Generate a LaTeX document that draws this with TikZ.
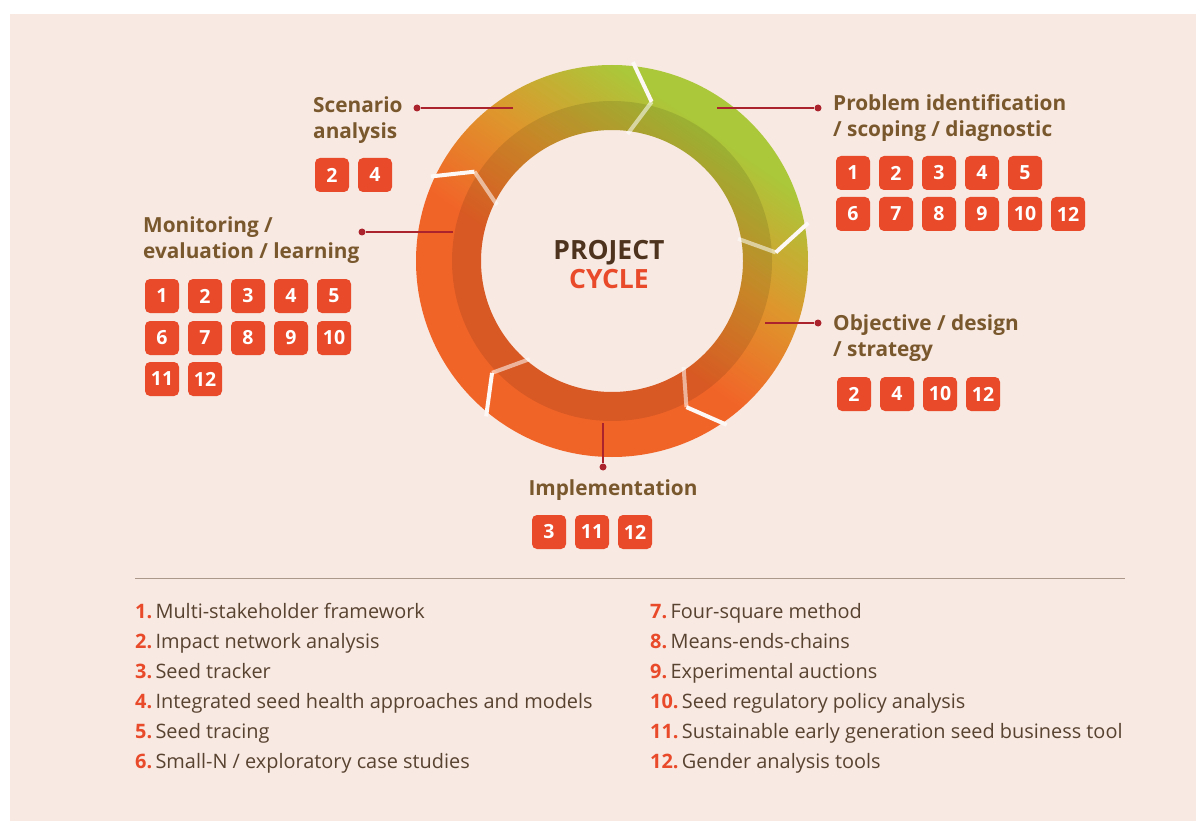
\documentclass[tikz,border=0pt]{standalone}
\usepackage{fontspec}
\setmainfont{Open Sans}
\usetikzlibrary{calc, positioning}

\definecolor{bgpeach}{RGB}{248,233,226}
\definecolor{boxred}{RGB}{232,74,42}
\definecolor{labelbrown}{RGB}{122,88,46}
\definecolor{legendbrown}{RGB}{88,66,48}
\definecolor{titlebrown}{RGB}{78,52,30}
\definecolor{leadred}{RGB}{170,35,45}
\definecolor{rulegray}{RGB}{172,152,138}
\definecolor{ringgreen}{RGB}{170,200,58}
\definecolor{ringmid}{RGB}{222,150,44}
\definecolor{ringorange}{RGB}{241,100,40}
\pgfdeclareverticalshading{ringshade}{100bp}{color(0bp)=(ringorange); color(44bp)=(ringorange);
  color(57bp)=(ringmid); color(71bp)=(ringgreen); color(100bp)=(ringgreen)}

\begin{document}
\begin{tikzpicture}[x=1pt, y=-1pt]
  \tikzstyle{numbox}=[fill=boxred, rounded corners=5pt, minimum size=34pt, inner sep=0pt,
    text=white, font=\fontsize{19.5}{19.5}\selectfont\bfseries]
  \tikzstyle{phase}=[anchor=north west, inner sep=0pt, align=left, text=labelbrown,
    font=\fontsize{20.8}{26}\selectfont\bfseries]
  \tikzstyle{leader}=[draw=leadred, line width=1.5pt]
  \tikzstyle{leaddot}=[circle, fill=leadred, inner sep=0pt, minimum size=7pt]
  \tikzstyle{gapline}=[draw=white!65!bgpeach, line width=4pt]
  \tikzstyle{legenditem}=[anchor=base west, inner sep=0pt, text=legendbrown,
    font=\fontsize{19.9}{22}\selectfont]

  % page
  \fill[white] (0,0) rectangle (1197,821);
  \fill[bgpeach] (10,14) rectangle (1196,821);
  \useasboundingbox (0,0) rectangle (1197,821);

  % ring
  \coordinate (C) at (612,261);
  \shade[even odd rule, shading=ringshade, shading angle=-35]
    (C) circle (196pt) (C) circle (131pt);
  \fill[black, opacity=.1, even odd rule] (C) circle (160pt) (C) circle (131pt);
  \foreach \g in {83,10,-56,-130,154} {
    \draw[gapline] ($(C)+({\g+1}:200pt)$) -- ($(C)+({\g-7}:164pt)$);
    \draw[gapline, draw=white, draw opacity=.55] ($(C)+({\g-7}:164pt)$) -- ($(C)+(\g:128pt)$);
  }
  \node[align=center, font=\fontsize{26.5}{29}\selectfont\bfseries] (cycle) at (609,265)
    {\textcolor{titlebrown}{PROJECT}\\\textcolor{boxred}{CYCLE}};

  % leaders
  \coordinate (scen-pt) at (513,108);
  \coordinate (prob-pt) at (717,108);
  \coordinate (mon-pt)  at (453,232);
  \coordinate (obj-pt)  at (765,323);
  \coordinate (impl-pt) at (603,423);
  \node[leaddot] (scen-dot) at (417,108) {};
  \node[leaddot] (prob-dot) at (818,108) {};
  \node[leaddot] (mon-dot)  at (362,232) {};
  \node[leaddot] (obj-dot)  at (818,323) {};
  \node[leaddot] (impl-dot) at (603,467) {};
  \draw[leader] (scen-pt) -- (scen-dot);
  \draw[leader] (prob-pt) -- (prob-dot);
  \draw[leader] (mon-pt)  -- (mon-dot);
  \draw[leader] (obj-pt)  -- (obj-dot);
  \draw[leader] (impl-pt) -- (impl-dot);

  % phases
  \node[phase] (scen) at (313,96)  {Scenario\\analysis};
  \node[phase] (prob) at (833,94)  {Problem identification\\/ scoping / diagnostic};
  \node[phase] (mon)  at (143,216) {Monitoring /\\evaluation / learning};
  \node[phase] (obj)  at (833,314) {Objective / design\\/ strategy};
  \node[phase, anchor=north] (impl) at (613,479) {Implementation};

  % tool boxes
  \foreach \n [count=\i from 0] in {2,4}
    \node[numbox] (scen-\n) at ({332+43*\i},175) {\n};
  \foreach \n [count=\i from 0] in {1,2,3,4,5}
    \node[numbox] (prob-\n) at ({853+43*\i},173) {\n};
  \foreach \n [count=\i from 0] in {6,7,8,9,10,12}
    \node[numbox] (prob-\n) at ({853+43*\i},214) {\n};
  \foreach \n [count=\i from 0] in {1,2,3,4,5}
    \node[numbox] (mon-\n) at ({162+43*\i},296) {\n};
  \foreach \n [count=\i from 0] in {6,7,8,9,10}
    \node[numbox] (mon-\n) at ({162+43*\i},338) {\n};
  \foreach \n [count=\i from 0] in {11,12}
    \node[numbox] (mon-\n) at ({162+43*\i},379) {\n};
  \foreach \n [count=\i from 0] in {2,4,10,12}
    \node[numbox] (obj-\n) at ({854+43*\i},394) {\n};
  \foreach \n [count=\i from 0] in {3,11,12}
    \node[numbox] (impl-\n) at ({549+43*\i},532) {\n};

  % legend
  \coordinate (rule-l) at (135,578);
  \coordinate (rule-r) at (1125,578);
  \draw[rulegray, line width=1pt] (rule-l) -- (rule-r);
  \foreach \n/\txt [count=\i from 0] in {1/Multi-stakeholder framework, 2/Impact network analysis,
      3/Seed tracker, 4/Integrated seed health approaches and models, 5/Seed tracing,
      6/{Small-N / exploratory case studies}}
    \node[legenditem] (tool-\n) at (135,{618+30*\i}) {\textcolor{boxred}{\bfseries\n.}\,\txt};
  \foreach \n/\txt [count=\i from 0] in {7/Four-square method, 8/Means-ends-chains,
      9/Experimental auctions, 10/Seed regulatory policy analysis,
      11/Sustainable early generation seed business tool, 12/Gender analysis tools}
    \node[legenditem] (tool-\n) at (650,{618+30*\i}) {\textcolor{boxred}{\bfseries\n.}\,\txt};
\end{tikzpicture}
\end{document}
